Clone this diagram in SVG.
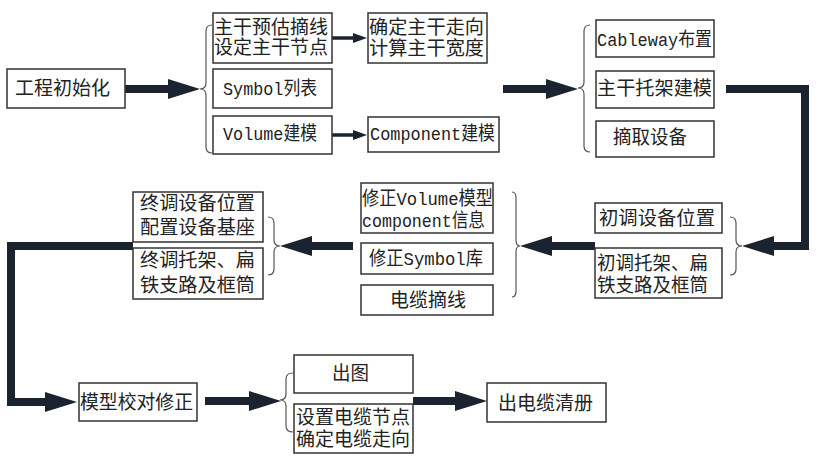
<svg xmlns="http://www.w3.org/2000/svg" width="820" height="460" viewBox="0 0 820 460">
<style>
.box{fill:#fff;stroke:#333;stroke-width:1.5}
.t{font-family:"Liberation Mono","Noto Sans CJK SC",monospace;font-size:19px;fill:#222}
.brace{fill:none;stroke:#555;stroke-width:1.2}
.thick{fill:none;stroke:#1c2330;stroke-width:8;stroke-linejoin:miter}
.thin{fill:none;stroke:#1c2330;stroke-width:3.5}
</style>
<defs>
<marker id="ah" markerUnits="userSpaceOnUse" viewBox="0 0 32 20" markerWidth="32" markerHeight="20" refX="12" refY="10" orient="auto"><path d="M0,0 L32,10 L0,20 Z" fill="#1c2330"/></marker>
<marker id="ahs" markerUnits="userSpaceOnUse" viewBox="0 0 14 10" markerWidth="14" markerHeight="10" refX="6" refY="5" orient="auto"><path d="M0,0 L14,5 L0,10 Z" fill="#1c2330"/></marker>
</defs>
<rect width="820" height="460" fill="#fff"/>

<g id="connectors">
<path class="thick" d="M125,89 H180" marker-end="url(#ah)"/>
<path class="thin" d="M332,38 H359" marker-end="url(#ahs)"/>
<path class="thin" d="M332,135 H359" marker-end="url(#ahs)"/>
<path class="thick" d="M503,89 H558" marker-end="url(#ah)"/>
<path class="thick" d="M726,89 H805 V246 H762" marker-end="url(#ah)"/>
<path class="thick" d="M595,246 H540" marker-end="url(#ah)"/>
<path class="thick" d="M353,246 H300" marker-end="url(#ah)"/>
<path class="thick" d="M133,246 H11 V402 H57" marker-end="url(#ah)"/>
<path class="thick" d="M205,401 H261" marker-end="url(#ah)"/>
<path class="thick" d="M413,401 H467" marker-end="url(#ah)"/>
</g>

<g id="braces">
<path class="brace" d="M212,25 Q206,25 206,31 L206,83 Q206,89 200,89 Q206,89 206,95 L206,147 Q206,153 212,153"/>
<path class="brace" d="M590,25 Q584,25 584,31 L584,82 Q584,88 578,88 Q584,88 584,94 L584,146 Q584,152 590,152"/>
<path class="brace" d="M730,217 Q736,217 736,223 L736,240 Q736,246 742,246 Q736,246 736,252 L736,269 Q736,275 730,275"/>
<path class="brace" d="M512,192 Q516,192 516,198 L516,240 Q516,246 520,246 Q516,246 516,252 L516,291 Q516,297 512,297"/>
<path class="brace" d="M268,217 Q274,217 274,223 L274,240 Q274,246 280,246 Q274,246 274,252 L274,269 Q274,275 268,275"/>
<path class="brace" d="M293,373 Q286,373 286,379 L286,394 Q286,400 280,400 Q286,400 286,406 L286,426 Q286,432 293,432"/>
</g>

<g id="n-init"><rect class="box" x="7" y="69" width="118" height="39"/><text class="t" x="15" y="95" textLength="95" lengthAdjust="spacingAndGlyphs">工程初始化</text></g>
<g id="n-trunk"><rect class="box" x="213" y="13" width="119" height="50"/><text class="t" x="214" y="34" textLength="114" lengthAdjust="spacingAndGlyphs">主干预估摘线</text><text class="t" x="214" y="54" textLength="114" lengthAdjust="spacingAndGlyphs">设定主干节点</text></g>
<g id="n-symbol"><rect class="box" x="213" y="69" width="119" height="39"/><text class="t" x="223" y="95" textLength="94" lengthAdjust="spacingAndGlyphs">Symbol列表</text></g>
<g id="n-volume"><rect class="box" x="213" y="116" width="119" height="38"/><text class="t" x="223" y="140" textLength="94" lengthAdjust="spacingAndGlyphs">Volume建模</text></g>
<g id="n-dir"><rect class="box" x="368" y="13" width="119" height="50"/><text class="t" x="369" y="34" textLength="115" lengthAdjust="spacingAndGlyphs">确定主干走向</text><text class="t" x="369" y="55" textLength="115" lengthAdjust="spacingAndGlyphs">计算主干宽度</text></g>
<g id="n-component"><rect class="box" x="368" y="117" width="131" height="35"/><text class="t" x="370" y="140" textLength="125" lengthAdjust="spacingAndGlyphs">Component建模</text></g>
<g id="n-cableway"><rect class="box" x="596" y="20" width="118" height="37"/><text class="t" x="597" y="46" textLength="115" lengthAdjust="spacingAndGlyphs">Cableway布置</text></g>
<g id="n-bracket"><rect class="box" x="596" y="71" width="118" height="37"/><text class="t" x="597" y="95" textLength="115" lengthAdjust="spacingAndGlyphs">主干托架建模</text></g>
<g id="n-equip"><rect class="box" x="596" y="121" width="118" height="36"/><text class="t" x="613" y="144" textLength="74" lengthAdjust="spacingAndGlyphs">摘取设备</text></g>
<g id="n-init-pos"><rect class="box" x="595" y="203" width="127" height="30"/><text class="t" x="599" y="225" textLength="116" lengthAdjust="spacingAndGlyphs">初调设备位置</text></g>
<g id="n-init-bracket"><rect class="box" x="595" y="248" width="127" height="50"/><text class="t" x="597" y="270" textLength="111" lengthAdjust="spacingAndGlyphs">初调托架、扁</text><text class="t" x="597" y="292" textLength="111" lengthAdjust="spacingAndGlyphs">铁支路及框筒</text></g>
<g id="n-fix-volume"><rect class="box" x="361" y="183" width="132" height="50"/><text class="t" x="362" y="205" textLength="131" lengthAdjust="spacingAndGlyphs">修正Volume模型</text><text class="t" x="362" y="227" textLength="123" lengthAdjust="spacingAndGlyphs">component信息</text></g>
<g id="n-fix-symbol"><rect class="box" x="361" y="243" width="132" height="31"/><text class="t" x="369" y="265" textLength="114" lengthAdjust="spacingAndGlyphs">修正Symbol库</text></g>
<g id="n-cable"><rect class="box" x="361" y="285" width="132" height="30"/><text class="t" x="390" y="307" textLength="76" lengthAdjust="spacingAndGlyphs">电缆摘线</text></g>
<g id="n-final-pos"><rect class="box" x="133" y="192" width="130" height="50"/><text class="t" x="140" y="210" textLength="115" lengthAdjust="spacingAndGlyphs">终调设备位置</text><text class="t" x="140" y="234" textLength="115" lengthAdjust="spacingAndGlyphs">配置设备基座</text></g>
<g id="n-final-bracket"><rect class="box" x="133" y="248" width="130" height="51"/><text class="t" x="140" y="267" textLength="115" lengthAdjust="spacingAndGlyphs">终调托架、扁</text><text class="t" x="140" y="292" textLength="115" lengthAdjust="spacingAndGlyphs">铁支路及框筒</text></g>
<g id="n-check"><rect class="box" x="79" y="383" width="118" height="38"/><text class="t" x="80" y="409" textLength="113" lengthAdjust="spacingAndGlyphs">模型校对修正</text></g>
<g id="n-drawing"><rect class="box" x="294" y="355" width="119" height="38"/><text class="t" x="332" y="380" textLength="37" lengthAdjust="spacingAndGlyphs">出图</text></g>
<g id="n-nodes"><rect class="box" x="294" y="404" width="119" height="49"/><text class="t" x="296" y="424" textLength="114" lengthAdjust="spacingAndGlyphs">设置电缆节点</text><text class="t" x="296" y="446" textLength="114" lengthAdjust="spacingAndGlyphs">确定电缆走向</text></g>
<g id="n-list"><rect class="box" x="487" y="383" width="119" height="39"/><text class="t" x="498" y="410" textLength="95" lengthAdjust="spacingAndGlyphs">出电缆清册</text></g>
</svg>
